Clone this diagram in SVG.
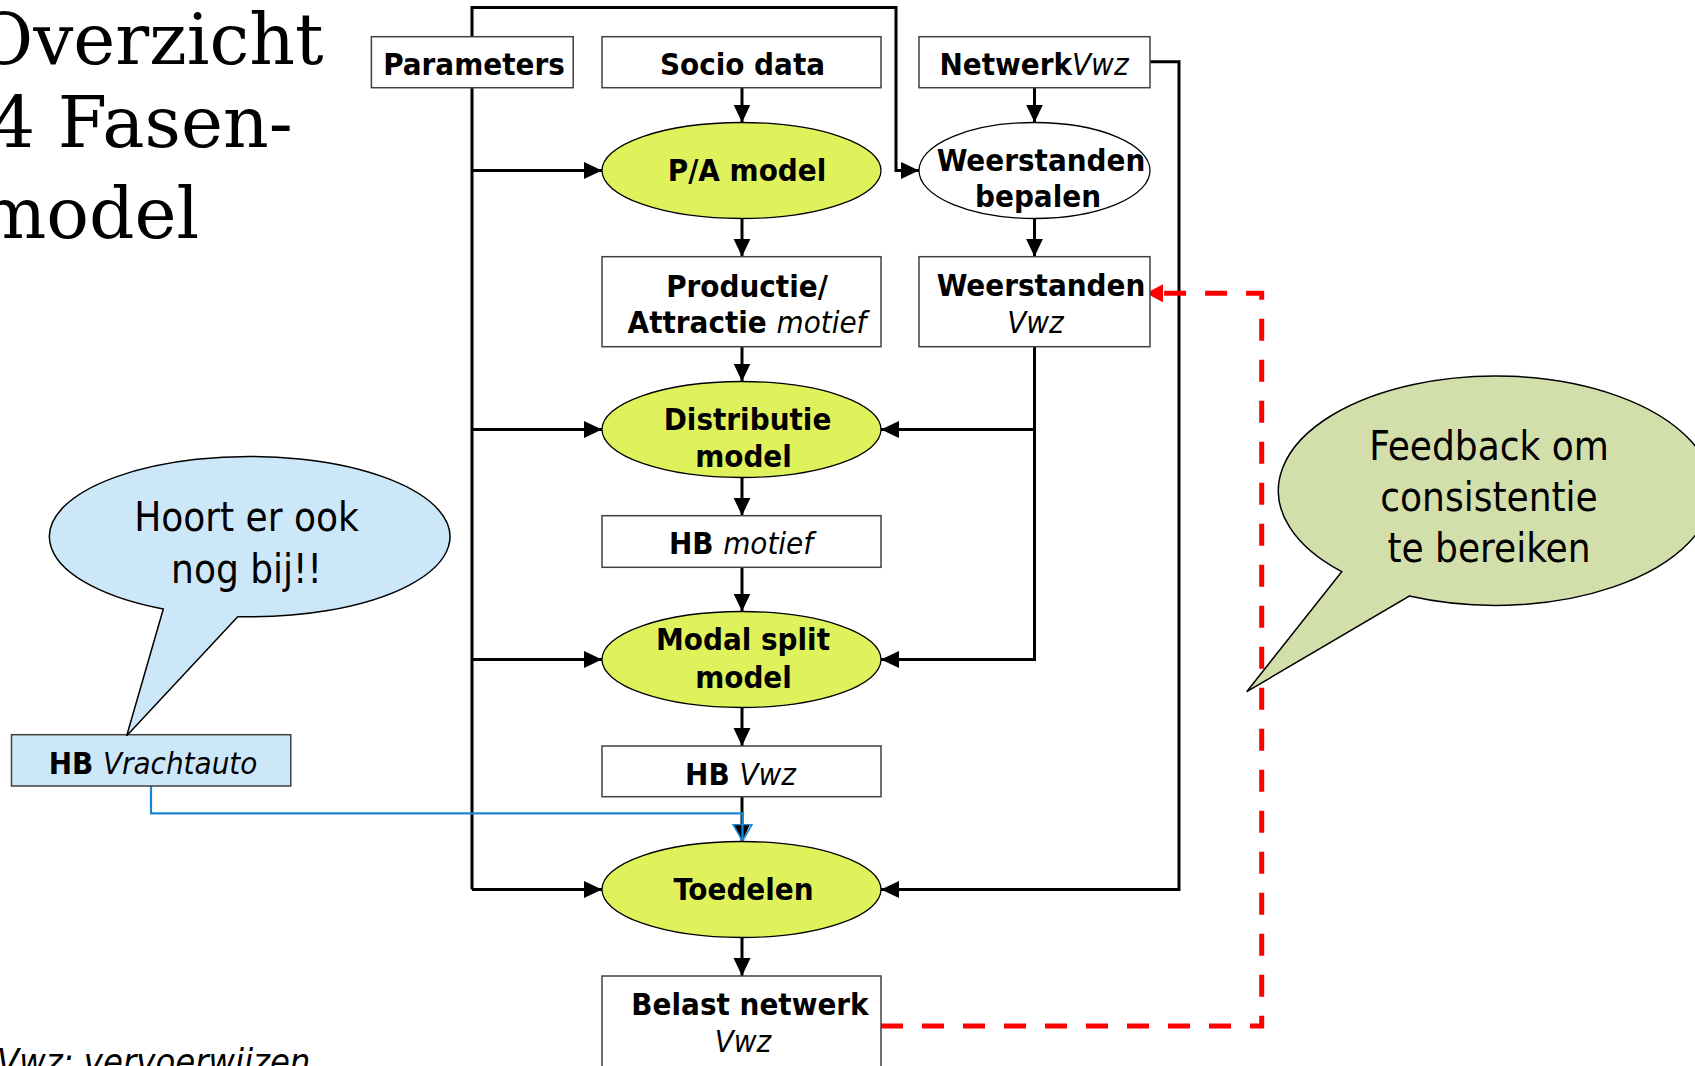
<svg xmlns="http://www.w3.org/2000/svg" width="1695" height="1066" viewBox="0 0 1695 1066">
  <style>
    .lbl { font-family: "DejaVu Sans Condensed", "DejaVu Sans", sans-serif; font-stretch: condensed; font-size: 31px; font-weight: bold; fill: #000; text-anchor: middle; }
    .it { font-weight: normal; font-style: italic; }
    .box { fill: #fff; stroke: #404040; stroke-width: 1.5; }
    .model { fill: #dff25c; stroke: #000; stroke-width: 1.3; }
    .conn { fill: none; stroke: #000; stroke-width: 3; }
    .callout { font-family: "DejaVu Sans Condensed", "DejaVu Sans", sans-serif; font-stretch: condensed; font-size: 40px; fill: #000; text-anchor: middle; }
    .title { font-family: "DejaVu Serif", serif; font-size: 71px; fill: #000; }
  </style>
  <defs>
    <marker id="arrow" markerUnits="userSpaceOnUse" markerWidth="20" markerHeight="20" refX="18" refY="8.5" orient="auto">
      <path d="M0,0 L18,8.5 L0,17 z" fill="#000"/>
    </marker>
    <marker id="arrow-red" markerUnits="userSpaceOnUse" markerWidth="20" markerHeight="20" refX="17" refY="9" orient="auto">
      <path d="M0,0 L17,9 L0,18 z" fill="#ff0000"/>
    </marker>
    <marker id="arrow-blue" markerUnits="userSpaceOnUse" markerWidth="22" markerHeight="22" refX="17" refY="10" orient="auto">
      <path d="M0.5,0.5 L17,10 L0.5,19.5 z" fill="none" stroke="#1a86d0" stroke-width="1.6"/>
    </marker>
  </defs>

  <!-- Title -->
  <g id="title">
    <text class="title" x="-25" y="64">Overzicht</text>
    <text class="title" x="-10" y="147">4 Fasen-</text>
    <text class="title" x="-21" y="238">model</text>
  </g>

  <!-- Connectors -->
  <g id="connectors">
    <!-- parameters loop over the top into the resistance step -->
    <path class="conn" d="M472,36.7 V7.5 H896 V170.5 H919" marker-end="url(#arrow)"/>
    <!-- parameters trunk -->
    <path class="conn" d="M472,87.7 V889.5"/>
    <path class="conn" d="M472,170.5 H602" marker-end="url(#arrow)"/>
    <path class="conn" d="M472,429.5 H602" marker-end="url(#arrow)"/>
    <path class="conn" d="M472,659.5 H602" marker-end="url(#arrow)"/>
    <path class="conn" d="M472,889.5 H602" marker-end="url(#arrow)"/>
    <!-- main chain -->
    <path class="conn" d="M742,87.7 V122.5" marker-end="url(#arrow)"/>
    <path class="conn" d="M742,218.5 V256.7" marker-end="url(#arrow)"/>
    <path class="conn" d="M742,346.7 V381.5" marker-end="url(#arrow)"/>
    <path class="conn" d="M742,477.5 V515.7" marker-end="url(#arrow)"/>
    <path class="conn" d="M742,567.3 V611.5" marker-end="url(#arrow)"/>
    <path class="conn" d="M742,707.5 V746" marker-end="url(#arrow)"/>
    <path class="conn" d="M742,796.7 V841.5" marker-end="url(#arrow)"/>
    <path class="conn" d="M742,937.5 V976" marker-end="url(#arrow)"/>
    <!-- network chain -->
    <path class="conn" d="M1034.5,87.7 V122.5" marker-end="url(#arrow)"/>
    <path class="conn" d="M1034.5,218.5 V256.7" marker-end="url(#arrow)"/>
    <path class="conn" d="M1034.5,346.7 V659.5 H881" marker-end="url(#arrow)"/>
    <path class="conn" d="M1034.5,429.5 H881" marker-end="url(#arrow)"/>
    <path class="conn" d="M1150,61.7 H1179 V889.5 H881" marker-end="url(#arrow)"/>
    <!-- truck OD matrix into assignment -->
    <path d="M151,786 V813.3 H742.5 V841" fill="none" stroke="#1a86d0" stroke-width="2.2" marker-end="url(#arrow-blue)"/>
    <!-- feedback loop -->
    <path d="M881,1026 H1261.7 V293.3 H1146" fill="none" stroke="#ff0000" stroke-width="5" stroke-dasharray="22 19" marker-end="url(#arrow-red)"/>
  </g>

  <!-- Nodes -->
  <g id="parameters">
    <rect class="box" x="371.4" y="36.7" width="201.8" height="51"/>
    <text class="lbl" x="474" y="75">Parameters</text>
  </g>
  <g id="socio-data">
    <rect class="box" x="602" y="36.7" width="279" height="51"/>
    <text class="lbl" x="742.5" y="75">Socio data</text>
  </g>
  <g id="netwerk-vwz">
    <rect class="box" x="919" y="36.7" width="231" height="51"/>
    <text class="lbl" x="1034" y="75">Netwerk<tspan class="it">Vwz</tspan></text>
  </g>
  <g id="pa-model">
    <ellipse class="model" cx="741.5" cy="170.5" rx="139.5" ry="48"/>
    <text class="lbl" x="747" y="181">P/A model</text>
  </g>
  <g id="weerstanden-bepalen">
    <ellipse cx="1034.5" cy="170.5" rx="115.5" ry="48" fill="#fff" stroke="#000" stroke-width="1.3"/>
    <text class="lbl" x="1041" y="170.5">Weerstanden</text>
    <text class="lbl" x="1038" y="206.5">bepalen</text>
  </g>
  <g id="productie-attractie">
    <rect class="box" x="602" y="256.7" width="279" height="90"/>
    <text class="lbl" x="747" y="296.5">Productie/</text>
    <text class="lbl" x="747" y="333">Attractie  <tspan class="it">motief</tspan></text>
  </g>
  <g id="weerstanden-vwz">
    <rect class="box" x="919" y="256.7" width="231" height="90"/>
    <text class="lbl" x="1041" y="296">Weerstanden</text>
    <text class="lbl it" x="1035.5" y="333">Vwz</text>
  </g>
  <g id="distributie-model">
    <ellipse class="model" cx="741.5" cy="429.5" rx="139.5" ry="48"/>
    <text class="lbl" x="747.5" y="430">Distributie</text>
    <text class="lbl" x="743.5" y="467">model</text>
  </g>
  <g id="hb-motief">
    <rect class="box" x="602" y="515.7" width="279" height="51.6"/>
    <text class="lbl" x="741" y="554">HB <tspan class="it">motief</tspan></text>
  </g>
  <g id="modal-split-model">
    <ellipse class="model" cx="741.5" cy="659.5" rx="139.5" ry="48"/>
    <text class="lbl" x="743" y="650">Modal split</text>
    <text class="lbl" x="743.5" y="687.5">model</text>
  </g>
  <g id="hb-vwz">
    <rect class="box" x="602" y="746" width="279" height="50.7"/>
    <text class="lbl" x="740.5" y="785">HB <tspan class="it">Vwz</tspan></text>
  </g>
  <g id="toedelen">
    <ellipse class="model" cx="741.5" cy="889.5" rx="139.5" ry="48"/>
    <text class="lbl" x="743.5" y="899.5">Toedelen</text>
  </g>
  <g id="belast-netwerk">
    <rect class="box" x="602" y="976" width="279" height="96"/>
    <text class="lbl" x="750" y="1015">Belast netwerk</text>
    <text class="lbl it" x="743" y="1051.5">Vwz</text>
  </g>
  <g id="hb-vrachtauto">
    <rect x="11.5" y="734.7" width="279.3" height="51.3" fill="#cce8f8" stroke="#404040" stroke-width="1.5"/>
    <text class="lbl" x="153" y="774">HB  <tspan class="it">Vrachtauto</tspan></text>
  </g>

  <!-- Callouts -->
  <g id="callout-extra">
    <path d="M163.3,609 A200.3,80.2 0 1 1 237.7,616.7 L126.7,735.7 Z" fill="#cce8f8" stroke="#000" stroke-width="1.5"/>
    <text class="callout" x="246.5" y="531">Hoort er ook</text>
    <text class="callout" x="246.5" y="583">nog bij!!</text>
  </g>
  <g id="callout-feedback">
    <path d="M1341.7,571.7 A217,114.7 0 1 1 1409.3,596 L1246.7,691.7 Z" fill="#d3dfaa" stroke="#000" stroke-width="1.5"/>
    <text class="callout" x="1489" y="460" font-size="41">Feedback om</text>
    <text class="callout" x="1489" y="511" font-size="41">consistentie</text>
    <text class="callout" x="1489" y="562" font-size="41">te bereiken</text>
  </g>

  <!-- Footnote -->
  <g id="footnote">
    <text x="-3" y="1074" font-family="DejaVu Sans Condensed, DejaVu Sans, sans-serif" font-stretch="condensed" font-size="36" font-style="italic">Vwz: vervoerwijzen</text>
  </g>
</svg>
